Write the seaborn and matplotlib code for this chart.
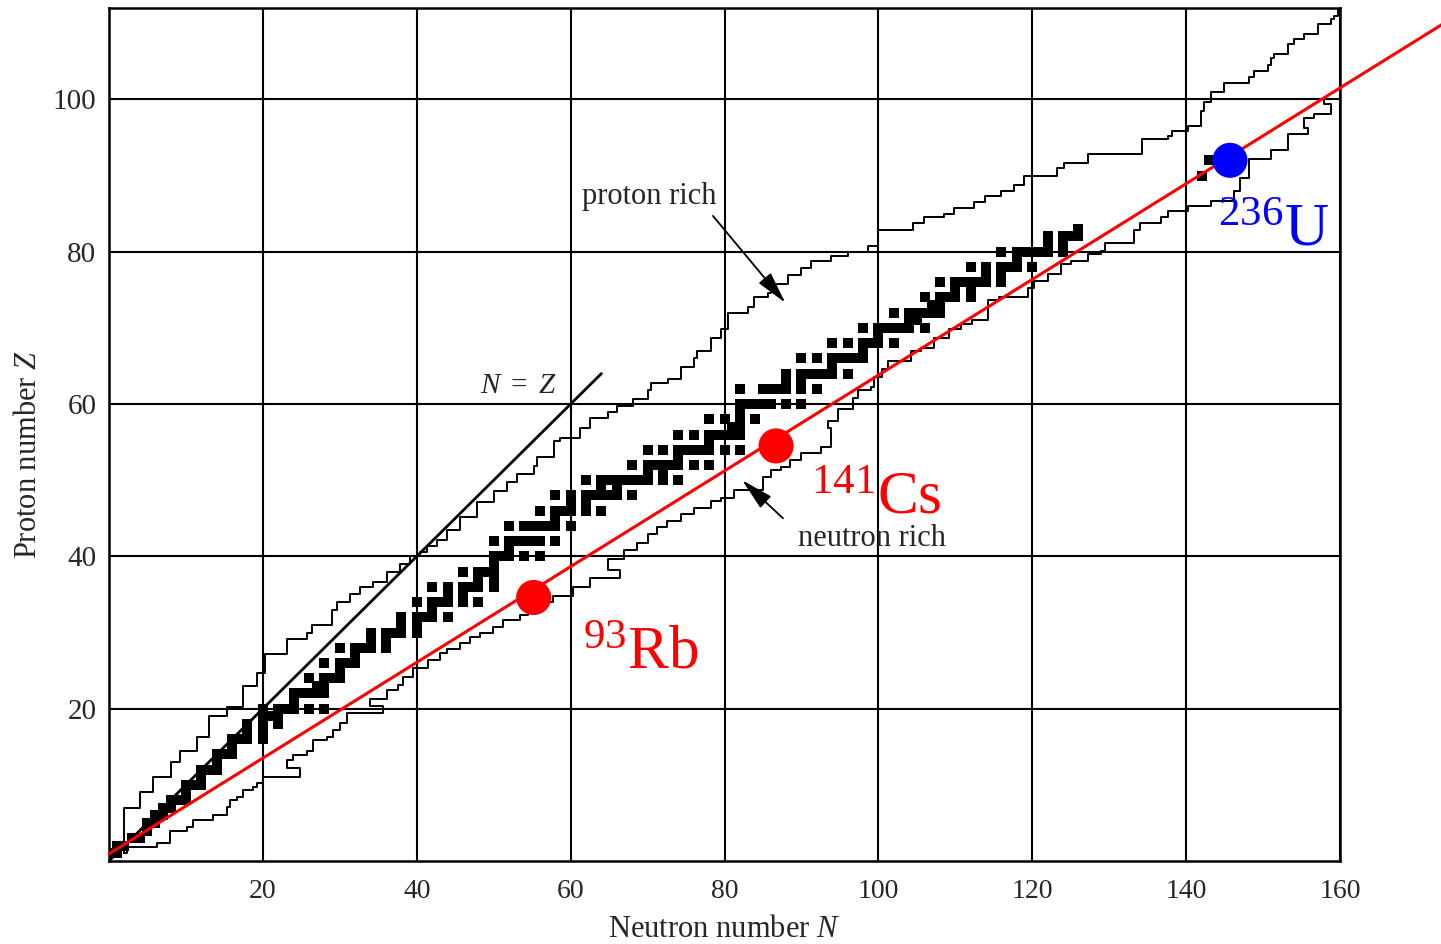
import matplotlib
matplotlib.use("Agg")
import matplotlib.pyplot as plt
import seaborn as sns
import numpy as np
import pandas as pd

sns.set_style("white")
plt.rcParams['font.family'] = ['Liberation Serif', 'DejaVu Serif']
plt.rcParams['mathtext.fontset'] = 'custom'
plt.rcParams['mathtext.rm'] = 'Liberation Serif'
plt.rcParams['mathtext.it'] = 'Liberation Serif:italic'
plt.rcParams['mathtext.bf'] = 'Liberation Serif:bold'

# Stable (and very long-lived) nuclides: proton number and its stable neutron numbers
stable_Z = [1, 2, 3, 4, 5, 6, 7, 8, 9, 10, 11, 12, 13, 14, 15, 16, 17, 18, 19, 20,
            21, 22, 23, 24, 25, 26, 27, 28, 29, 30, 31, 32, 33, 34, 35, 36, 37, 38, 39, 40,
            41, 42, 44, 45, 46, 47, 48, 49, 50, 51, 52, 53, 54, 55, 56, 57, 58, 59, 60,
            62, 63, 64, 65, 66, 67, 68, 69, 70, 71, 72, 73, 74, 75, 76, 77, 78, 79, 80,
            81, 82, 83, 90, 92]
stable_N = [[0, 1], [1, 2], [3, 4], [5], [5, 6], [6, 7], [7, 8], [8, 9, 10], [10],
            [10, 11, 12], [12], [12, 13, 14], [14], [14, 15, 16], [16], [16, 17, 18, 20],
            [18, 20], [18, 20, 22], [20, 21, 22], [20, 22, 23, 24, 26, 28],
            [24], [24, 25, 26, 27, 28], [27, 28], [26, 28, 29, 30], [30], [28, 30, 31, 32],
            [32], [30, 32, 33, 34, 36], [34, 36], [34, 36, 37, 38, 40], [38, 40],
            [38, 40, 41, 42, 44], [42], [40, 42, 43, 44, 46, 48], [44, 46],
            [42, 44, 46, 47, 48, 50], [48, 50], [46, 48, 49, 50], [50], [50, 51, 52, 54, 56],
            [52], [50, 52, 53, 54, 55, 56, 58], [52, 54, 55, 56, 57, 58, 60], [58],
            [56, 58, 59, 60, 62, 64], [60, 62], [58, 60, 62, 63, 64, 65, 66, 68], [64, 66],
            [62, 64, 65, 66, 67, 68, 69, 70, 72, 74], [70, 72], [68, 70, 71, 72, 73, 74, 76, 78],
            [74], [70, 72, 74, 75, 76, 77, 78, 80, 82], [78], [74, 76, 78, 79, 80, 81, 82],
            [81, 82], [78, 80, 82, 84], [82], [82, 83, 84, 85, 86, 88, 90],
            [82, 85, 86, 87, 88, 90, 92], [88, 90], [88, 90, 91, 92, 93, 94, 96], [94],
            [90, 92, 94, 95, 96, 97, 98], [98], [94, 96, 98, 99, 100, 102], [100],
            [98, 100, 101, 102, 103, 104, 106], [104, 105], [102, 104, 105, 106, 107, 108],
            [107, 108], [106, 108, 109, 110, 112], [110, 112],
            [108, 110, 111, 112, 113, 114, 116], [114, 116], [112, 114, 116, 117, 118, 120],
            [118], [116, 118, 119, 120, 121, 122, 124], [122, 124], [122, 124, 125, 126],
            [126], [142], [143, 146]]

# Limit of known nuclei, proton-rich side (step corners N, Z)
upper_N = [2, 2, 4, 5.7, 8, 9.2, 11.4, 13, 15.3, 17.4, 19.2, 20.3, 23.2, 25.7, 26.4, 29,
           29.6, 31.3, 32.6, 34.3, 36.1, 37.8, 39.1, 40.4, 41.3, 42.6, 43.9, 45.6, 47.8,
           50, 51.7, 53, 55.2, 55.6, 57.8, 58.6, 61.2, 62.5, 64.8, 66, 68.1, 70, 70.4,
           72.6, 74.3, 76, 76.4, 78.2, 79.5, 80.4, 83, 83.8, 85.6, 86, 88.2, 89.9, 91.2,
           93.8, 96, 98.6, 99.9, 104.5, 105.9, 108.5, 109.8, 112.4, 113.9, 115.9, 117.6,
           118.9, 123.2, 124.1, 127.3, 134.3, 137.6, 138.2, 140.2, 141.9, 142.3, 143.2,
           144.9, 148.2, 148.8, 150.6, 151, 151.4, 153.2, 154, 155.3, 157.1, 158.8,
           159.2, 159.7]
upper_Z = [1, 7, 9, 11, 13, 14.5, 16.3, 19, 20.2, 23, 24.7, 27.2, 29.2, 30, 31, 33,
           34, 35, 36, 36.6, 38, 39, 40, 40.6, 41.4, 42.1, 43.4, 45.2, 47.1,
           48.6, 49.7, 50.8, 51.9, 53, 55.2, 55.6, 56.9, 58.2, 58.9, 59.7, 60.6, 61.8, 62.8,
           63.3, 64.8, 66.1, 67, 68.7, 69.9, 71.9, 72.7, 74, 74.6, 75.8, 76.9, 77.9, 78.8,
           79.5, 79.9, 80.8, 82.8, 83.8, 84.5, 85, 85.8, 86.5, 87.3, 88, 88.7,
           89.9, 91, 91.7, 92.8, 94.8, 95.2, 95.9, 96.5, 98.5, 99.6, 101,
           102.2, 102.9, 103.7, 104.5, 105.4, 106, 107.3, 107.9, 108.6, 109.9, 110.5,
           111, 112]

# Limit of known nuclei, neutron-rich side (step corners N, Z)
lower_N = [2, 2.3, 6.2, 7.9, 10.1, 10.9, 13.5, 15.3, 15.7, 16.6, 17.4, 18.7, 19.2, 20,
           24.8, 23.1, 23.9, 25.7, 26.5, 28.3, 29.1, 30, 30.9, 35.6, 33.9, 36.1, 37.5,
           38.2, 39.5, 41.4, 43, 43.9, 45.6, 46.9, 48.2, 49.9, 51.2, 53.4, 54.5, 56,
           57.7, 60.3, 62.5, 66.4, 64.8, 66.9, 68.6, 70, 71.2, 72.5, 74.3, 76, 78.2,
           79.5, 81.2, 85, 86, 87.3, 88.5, 89.9, 92.5, 93.8, 93.4, 94.7, 96.7, 97.3,
           99, 99.4, 100.5, 101.2, 104.2, 105.5, 107.2, 109.2, 110.7, 112.2, 114.2,
           115.7, 119.4, 120.2, 122, 123.7, 125, 127.2, 128.9, 129.5, 133.2, 134,
           136.7, 137.6, 140.2, 143.2, 146.2, 147, 148.2, 151, 153.2, 155.8, 155.3,
           156.6, 158.8, 157.9]
lower_Z = [1, 1.8, 2.4, 4, 4.5, 5.4, 6, 7.1, 8, 8.4, 9.3, 9.7, 10.2, 11,
           12.2, 13.2, 13.9, 14.5, 15.9, 16.3, 17.2, 18.1, 19.4, 20.3, 21.3, 22.4, 23.1,
           24.1, 25.3, 26.4, 27.3, 27.9, 28.6, 29.4, 30, 30.7, 31.6, 32.3, 33.2, 34,
           34.8, 36, 37.2, 38.2, 39.7, 40.8, 41.7, 43, 43.8, 44.7, 45.6, 46.4, 47.3,
           47.7, 48.7, 50.4, 51.3, 51.7, 52.6, 53.6, 54.3, 56.9, 57.8, 59.3, 60.8, 61.8,
           62.2, 63.5, 64.6, 65.7, 67, 67.4, 68.7, 69.8, 70.5, 71, 73.6,
           74, 75.3, 76.2, 77.1, 78.4, 78.8, 79.7, 80.1, 81.2, 82.8, 83.8,
           84.5, 85.4, 86, 86.7, 88, 89.7, 92.2, 93.4, 95.5, 96.3, 97.6,
           98.1, 99.4, 100]

# N = Z reference line and the fission-fragment line
nz_line = [0, 64]
fit_N = [0, 173.2]
fit_Z = [0.94, 109.8]

# Highlighted nuclei
frag_names = ['93Rb', '141Cs', '236U']
frag_N = [55.2, 86.7, 145.7]
frag_Z = [34.6, 54.5, 92.0]
frag_colors = ['#ff0000', '#ff0000', '#0000ff']
frag_labels = [r'$^{93}$Rb', r'$^{141}$Cs', r'$^{236}$U']
label_N = [61.6, 91.2, 144.2]
label_Z = [25.3, 45.6, 80.8]

stable_df = pd.DataFrame([(n, z) for z, ns in zip(stable_Z, stable_N) for n in ns],
                         columns=['N', 'Z'])
frag_df = pd.DataFrame({'nuclide': frag_names, 'N': frag_N, 'Z': frag_Z})

fig = plt.figure(figsize=(14.41, 9.44), dpi=100)
ax = fig.add_axes([109 / 1441, 1 - 861 / 944, (1340 - 109) / 1441, (861 - 8) / 944])

# Boundaries of known nuclei
ax.plot(upper_N, upper_Z, drawstyle='steps-post', color='black', lw=1.4, zorder=2)
ax.plot(lower_N, lower_Z, drawstyle='steps-post', color='black', lw=1.4, zorder=2)

# N = Z
ax.plot(nz_line, nz_line, color='black', lw=2, zorder=2)

# Stable nuclei
sns.scatterplot(data=stable_df, x='N', y='Z', marker='s', s=46, color='black',
                linewidth=0, ax=ax, zorder=3)

# Fission line and fragments
ax.plot(fit_N, fit_Z, color='#ff0000', lw=2.2, clip_on=False, zorder=4)
sns.scatterplot(data=frag_df, x='N', y='Z', hue='nuclide', palette=frag_colors,
                s=640, linewidth=0, legend=False, ax=ax, zorder=5)
for lab, x, y, c in zip(frag_labels, label_N, label_Z, frag_colors):
    ax.text(x, y, lab, color=c, fontsize=44, va='baseline', ha='left')

# Annotations
ax.text(48.2, 61.4, r'$N\ =\ Z$', fontsize=21, va='baseline')
ax.text(61.5, 86.3, 'proton rich', fontsize=22, va='baseline')
ax.text(89.5, 41.3, 'neutron rich', fontsize=22, va='baseline')
arrow = dict(arrowstyle='-|>,head_length=0.9,head_width=0.22', color='black', lw=1.3,
             shrinkA=0, shrinkB=0, mutation_scale=22)
ax.annotate('', xy=(87.9, 73.3), xytext=(78.5, 84.7), arrowprops=arrow)
ax.annotate('', xy=(82.3, 50.0), xytext=(87.6, 45.0), arrowprops=arrow)

ax.set_xlim(0, 160)
ax.set_ylim(0, 112)
ax.set_xticks(range(20, 161, 20))
ax.set_yticks(range(20, 101, 20))
ax.grid(True, color='black', lw=1.5)
ax.set_axisbelow(True)
ax.tick_params(axis='both', length=0)
ax.tick_params(axis='x', labelsize=20, pad=13)
ax.tick_params(axis='y', labelsize=21, pad=9)
for sp in ax.spines.values():
    sp.set_color('black')
    sp.set_linewidth(1.8)

ax.set_xlabel('Neutron number $N$', fontsize=22, labelpad=8)
ax.set_ylabel('Proton number $Z$', fontsize=22)
ax.yaxis.set_label_coords(-0.054, 0.476)

plt.savefig('out.png', dpi=100)
